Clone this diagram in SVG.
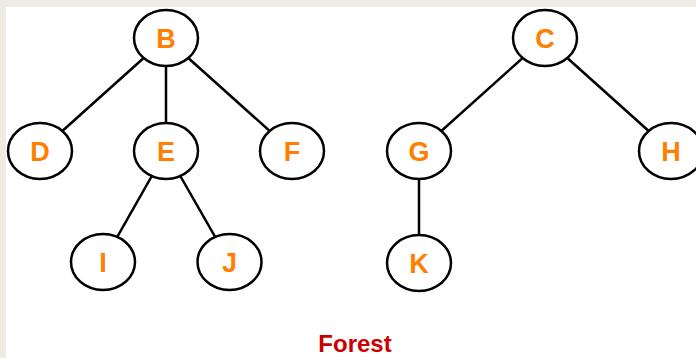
<svg xmlns="http://www.w3.org/2000/svg" width="696" height="358" viewBox="0 0 696 358">
<style>
.n ellipse{fill:#fff;stroke:#000;stroke-width:2.5}
.n text{font-family:"Liberation Sans",Arial,sans-serif;font-weight:bold;font-size:27px;fill:#ff8000;text-anchor:middle}
#edges line{stroke:#000;stroke-width:2.5}
</style>
<rect width="696" height="358" fill="#eeebe1"/>
<rect x="6" y="7" width="690" height="351" fill="#fff"/>
<g id="edges">
<line x1="166" y1="38" x2="40" y2="151"/>
<line x1="166" y1="38" x2="166" y2="151"/>
<line x1="166" y1="38" x2="292" y2="151"/>
<line x1="166" y1="151" x2="103" y2="262"/>
<line x1="166" y1="151" x2="229.5" y2="262"/>
<line x1="545" y1="38" x2="419" y2="151"/>
<line x1="545" y1="38" x2="671" y2="151"/>
<line x1="419" y1="151" x2="419" y2="263"/>
</g>
<g id="B" class="n"><ellipse cx="166" cy="38" rx="32" ry="28"/><text x="166" y="48">B</text></g>
<g id="C" class="n"><ellipse cx="545" cy="38" rx="32" ry="28"/><text x="545" y="48">C</text></g>
<g id="D" class="n"><ellipse cx="40" cy="151" rx="32" ry="28"/><text x="40" y="161">D</text></g>
<g id="E" class="n"><ellipse cx="166" cy="151" rx="32" ry="28"/><text x="166" y="161">E</text></g>
<g id="F" class="n"><ellipse cx="292" cy="151" rx="32" ry="28"/><text x="292" y="161">F</text></g>
<g id="G" class="n"><ellipse cx="419" cy="151" rx="32" ry="28"/><text x="419" y="161">G</text></g>
<g id="H" class="n"><ellipse cx="671" cy="151" rx="32" ry="28"/><text x="671" y="161">H</text></g>
<g id="I" class="n"><ellipse cx="103" cy="262" rx="32" ry="28"/><text x="103" y="272">I</text></g>
<g id="J" class="n"><ellipse cx="229.5" cy="262" rx="32" ry="28"/><text x="229.5" y="272">J</text></g>
<g id="K" class="n"><ellipse cx="419" cy="263" rx="32" ry="28"/><text x="419" y="273">K</text></g>
<text x="355" y="352" font-family="'Liberation Sans',Arial,sans-serif" font-weight="bold" font-size="24" fill="#cc0000" text-anchor="middle">Forest</text>
</svg>
